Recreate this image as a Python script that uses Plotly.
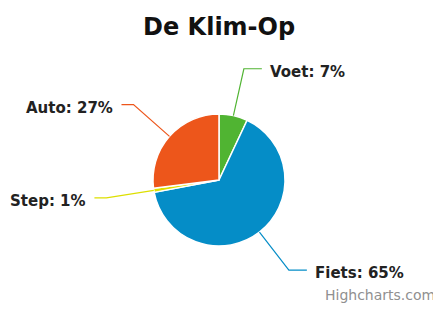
import math
import plotly.graph_objects as go

# ---- data ----
labels = ["Voet", "Fiets", "Step", "Auto"]
values = [7, 65, 1, 27]
colors = ["#50B432", "#058DC7", "#DDDF00", "#ED561B"]
title = "De Klim-Op"
credits = "Highcharts.com"

# ---- layout constants (page pixels) ----
PAGE_W, PAGE_H = 441, 309
OFF = 8  # browser body margin
W, H = PAGE_W - OFF, PAGE_H - OFF
CX, CY, R = 219, 180, 66
LABEL_R = 114
H_OFF_RIGHT = 24
H_OFF_LEFT = 18
TEXT_DY = 3

def px(x):
    return (x - OFF) / W

def py(y):
    return 1 - (y - OFF) / H

fig = go.Figure(go.Pie(
    labels=labels, values=values, sort=False, direction="clockwise", rotation=0,
    marker=dict(colors=colors, line=dict(color="white", width=1.5)),
    textinfo="none", hoverinfo="label+percent", showlegend=False,
    domain=dict(x=[px(CX - R), px(CX + R)], y=[py(CY + R), py(CY - R)]),
))

total = sum(values)
cum = 0
shapes = []
annotations = []
for lab, v, c in zip(labels, values, colors):
    mid = (cum + v / 2) / total * 2 * math.pi
    cum += v
    sx, sy = math.sin(mid), -math.cos(mid)
    ex, ey = CX + R * sx, CY + R * sy
    bx, by = CX + LABEL_R * sx, CY + LABEL_R * sy
    side = 1 if sx >= 0 else -1
    hoff = H_OFF_RIGHT if side > 0 else H_OFF_LEFT
    hx = bx + side * (hoff - 6)
    lx = bx + side * hoff
    shapes.append(dict(
        type="path", xref="paper", yref="paper",
        path=f"M {px(ex)},{py(ey)} L {px(bx)},{py(by)} L {px(hx)},{py(by)}",
        line=dict(color=c, width=1.2),
    ))
    annotations.append(dict(
        x=px(lx), y=py(by + TEXT_DY), xref="paper", yref="paper",
        text=f"<b>{lab}: {round(v / total * 100)}%</b>",
        showarrow=False, xanchor="left" if side > 0 else "right", yanchor="middle",
        font=dict(family="DejaVu Sans", size=15, color="#222222"),
    ))

annotations.append(dict(
    x=px(437), y=py(295), xref="paper", yref="paper", text=credits,
    showarrow=False, xanchor="right", yanchor="middle",
    font=dict(family="DejaVu Sans", size=14, color="#909090"),
))
annotations.append(dict(
    x=px(219), y=py(27), xref="paper", yref="paper", text=f"<b>{title}</b>",
    showarrow=False, xanchor="center", yanchor="middle",
    font=dict(family="DejaVu Sans", size=24, color="#111111"),
))

fig.update_layout(
    width=W, height=H, margin=dict(l=0, r=0, t=0, b=0),
    paper_bgcolor="white", plot_bgcolor="white",
    shapes=shapes, annotations=annotations,
)
fig.write_html("out.html")
